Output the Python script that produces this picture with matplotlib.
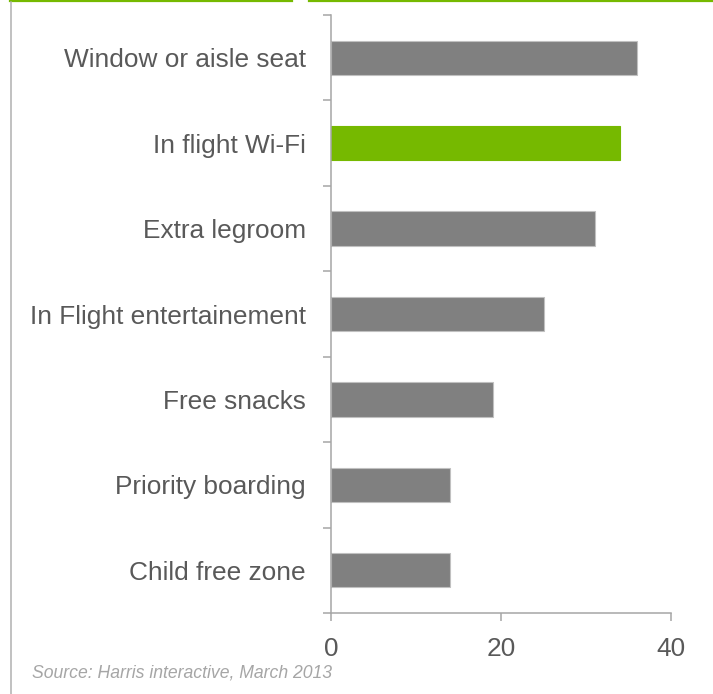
import matplotlib
matplotlib.use("Agg")
import matplotlib.pyplot as plt
from matplotlib.lines import Line2D

# data
categories = ["Window or aisle seat", "In flight Wi-Fi", "Extra legroom",
              "In Flight entertainement", "Free snacks", "Priority boarding",
              "Child free zone"]
values = [36, 34, 31, 25, 19, 14, 14]
highlight = "In flight Wi-Fi"
x_ticks = [0, 20, 40]
source = "Source: Harris interactive, March 2013"

plt.rcParams["font.family"] = ["Liberation Sans", "DejaVu Sans"]

gray = "#808080"
green = "#76B900"
axis_col = "#a6a6a6"
text_col = "#595959"

fig = plt.figure(figsize=(7.13, 6.94), dpi=100)
ax = fig.add_axes([331 / 713, 1 - 613 / 694, 340 / 713, 598 / 694])

ypos = list(range(len(categories)))
colors = [green if c == highlight else gray for c in categories]
edges = [green if c == highlight else "#c0c0c0" for c in categories]
ax.barh(ypos, values, height=0.4, color=colors, edgecolor=edges, linewidth=0.8)

ax.set_ylim(len(categories) - 0.5, -0.5)
ax.set_xlim(0, 40)
ax.set_xticks(x_ticks)
ax.set_yticks(ypos)
ax.set_yticklabels(categories)
ax.set_yticks([i - 0.5 for i in range(len(categories) + 1)], minor=True)

ax.tick_params(axis="y", which="major", length=0, pad=18, labelsize=18.9,
               labelcolor=text_col)
ax.tick_params(axis="y", which="minor", length=6, width=1.1, color=axis_col)
ax.tick_params(axis="x", length=6, width=1.1, color=axis_col, pad=11,
               labelsize=18.9, labelcolor=text_col)

for s in ["top", "right"]:
    ax.spines[s].set_visible(False)
for s in ["left", "bottom"]:
    ax.spines[s].set_color(axis_col)
    ax.spines[s].set_linewidth(1.1)

# frame decorations: green rule on top and gray rule on the left
W, H = 713, 694
fig.add_artist(Line2D([10 / W, 292 / W], [1 - 1 / H, 1 - 1 / H], color=green, lw=1.6))
fig.add_artist(Line2D([309 / W, 1], [1 - 1 / H, 1 - 1 / H], color=green, lw=1.6))
fig.add_artist(Line2D([11 / W, 11 / W], [0, 1 - 2 / H], color="#b0b0b0", lw=1.1))

fig.text(32 / W, 1 - 677 / H, source, fontsize=12.7, style="italic",
         color="#a6a6a6", ha="left", va="baseline")

fig.savefig("out.png", dpi=100)
